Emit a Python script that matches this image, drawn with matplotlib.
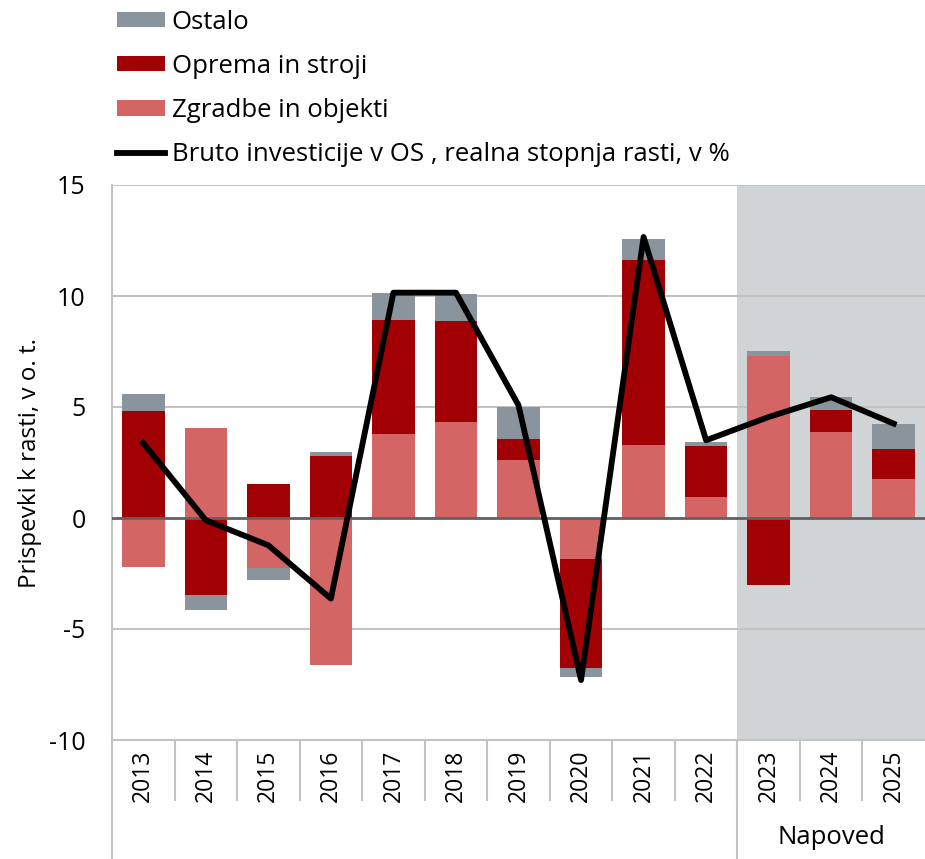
import numpy as np
import matplotlib
matplotlib.use('Agg')
import matplotlib.pyplot as plt
import matplotlib.transforms as mtransforms

plt.rcParams['font.family'] = ['Open Sans', 'DejaVu Sans']

years = ['2013', '2014', '2015', '2016', '2017', '2018', '2019',
         '2020', '2021', '2022', '2023', '2024', '2025']
zgradbe = [-2.2, 4.05, -2.23, -6.6, 3.79, 4.34, 2.63, -1.86, 3.29, 0.93, 7.3, 3.89, 1.76]
oprema = [4.84, -3.45, 1.53, 2.81, 5.15, 4.55, 0.95, -4.88, 8.33, 2.3, -3.04, 0.99, 1.36]
ostalo = [0.75, -0.71, -0.55, 0.15, 1.21, 1.2, 1.41, -0.44, 0.93, 0.21, 0.21, 0.56, 1.1]
bruto = [3.38, -0.1, -1.23, -3.63, 10.15, 10.15, 5.08, -7.3, 12.66, 3.5, 4.55, 5.44, 4.25]

c_ostalo = '#8a949c'
c_oprema = '#a10005'
c_zgradbe = '#d46565'
c_shade = '#d1d4d7'

fig = plt.figure(figsize=(9.25, 8.59), dpi=100)
ax = fig.add_axes([112 / 925, 119 / 859, 1 - 112 / 925, 555 / 859])

x = np.arange(len(years))
w = 0.68

# stack positives and negatives separately, order: zgradbe, oprema, ostalo
pos = np.zeros(len(years))
neg = np.zeros(len(years))
for vals, col, lab in [(zgradbe, c_zgradbe, 'Zgradbe in objekti'),
                       (oprema, c_oprema, 'Oprema in stroji'),
                       (ostalo, c_ostalo, 'Ostalo')]:
    vals = np.array(vals)
    base = np.where(vals >= 0, pos, neg)
    ax.bar(x, vals, w, bottom=base, color=col, label=lab, zorder=3)
    pos = pos + np.where(vals >= 0, vals, 0)
    neg = neg + np.where(vals < 0, vals, 0)

ax.plot(x, bruto, color='black', lw=4.2, solid_joinstyle='round', zorder=5,
        label='Bruto investicije v OS , realna stopnja rasti, v %')

ax.axvspan(9.5, 12.5, color=c_shade, zorder=0, lw=0)

ax.set_xlim(-0.5, 12.5)
ax.set_ylim(-10, 15)
ax.set_yticks([-10, -5, 0, 5, 10, 15])
ax.set_yticklabels(['-10', '-5', '0', '5', '10', '15'], fontsize=18)
ax.tick_params(axis='y', length=0, pad=19)
for v in [-5, 5, 10, 15]:
    ax.axhline(v, color='#c3c3c3', lw=1.5, zorder=1)
ax.axhline(0, color='#606060', lw=2, zorder=4)

ax.set_xticks(x)
ax.set_xticklabels(years, rotation=90, fontsize=16.5)
ax.tick_params(axis='x', length=0, pad=7)

for s in ['top', 'right']:
    ax.spines[s].set_visible(False)
ax.spines['left'].set_color('#c3c3c3')
ax.spines['left'].set_linewidth(1.5)
ax.spines['bottom'].set_color('#c3c3c3')
ax.spines['bottom'].set_linewidth(1.5)

ax.set_ylabel('Prispevki k rasti, v o. t.', fontsize=17.5, labelpad=5)

# category separators below the axis
trans = mtransforms.blended_transform_factory(ax.transData, ax.transAxes)
for b in np.arange(0.5, 12.5, 1.0):
    ax.plot([b, b], [0, -60 / 555], transform=trans, color='#c3c3c3', lw=1.5, clip_on=False)
for b in [-0.5, 9.5]:
    ax.plot([b, b], [0, -119 / 555], transform=trans, color='#c3c3c3', lw=1.5, clip_on=False)
ax.text(11, -98 / 555, 'Napoved', transform=trans, ha='center', va='center', fontsize=18.5)

h, l = ax.get_legend_handles_labels()
order = [3, 2, 1, 0]
fig.legend([h[i] for i in order], [l[i] for i in order], loc='upper left',
           bbox_to_anchor=(114 / 925, 1 - 7 / 859), frameon=False, fontsize=18.5,
           handlelength=1.9, handleheight=0.55, handletextpad=0.25,
           labelspacing=0.75, borderpad=0.1, borderaxespad=0)

fig.savefig('out.png', dpi=100)
